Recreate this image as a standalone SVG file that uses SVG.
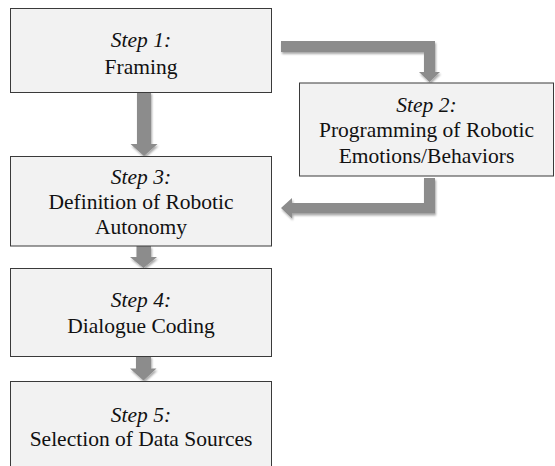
<svg xmlns="http://www.w3.org/2000/svg" width="555" height="466" viewBox="0 0 555 466">
<style>
.box{fill:#f2f2f2;stroke:#3a3a3a;stroke-width:1}
.t{font-family:"Liberation Serif","Times New Roman",serif;font-size:21.5px;fill:#111;text-anchor:middle}
.i{font-style:italic}
.arr{fill:#8c8c8c}
</style>
<defs>
<filter id="sh" x="-20%" y="-20%" width="140%" height="140%">
<feGaussianBlur in="SourceAlpha" stdDeviation="1.2"/>
<feOffset dx="1" dy="1.5" result="b"/>
<feComponentTransfer><feFuncA type="linear" slope="0.35"/></feComponentTransfer>
<feMerge><feMergeNode/><feMergeNode in="SourceGraphic"/></feMerge>
</filter>
</defs>
<rect width="555" height="466" fill="#ffffff"/>
<g id="connectors" filter="url(#sh)">
<path class="arr" d="M137 92 H151 V144 H157.5 L144 156 L130.5 144 H137 Z"/>
<path class="arr" d="M281 41 H435 V72 H440 L429.5 82 L419 72 H424 V52 H281 Z"/>
<path class="arr" d="M424 178 H435 V213.5 H292 V218.5 L281 208 L292 198 V203 H424 Z"/>
<path class="arr" d="M136.5 246 H151 V257 H157 L143.5 268 L130 257 H136.5 Z"/>
<path class="arr" d="M136 356 H151 V368.5 H156.5 L143.5 380.5 L130 368.5 H136 Z"/>
</g>
<g id="step1"><rect class="box" x="10.5" y="8.5" width="261" height="84"/>
<text class="t i" x="141" y="47">Step 1:</text><text class="t" x="141" y="74">Framing</text></g>
<g id="step2"><rect class="box" x="299.5" y="83" width="254" height="93"/>
<text class="t i" x="426.5" y="112">Step 2:</text><text class="t" x="426.5" y="137">Programming of Robotic</text><text class="t" x="426.5" y="163">Emotions/Behaviors</text></g>
<g id="step3"><rect class="box" x="10.5" y="156.5" width="261" height="89.5"/>
<text class="t i" x="141" y="184">Step 3:</text><text class="t" x="141" y="209">Definition of Robotic</text><text class="t" x="141" y="234">Autonomy</text></g>
<g id="step4"><rect class="box" x="10.5" y="268.5" width="261" height="88"/>
<text class="t i" x="141" y="307">Step 4:</text><text class="t" x="141" y="333">Dialogue Coding</text></g>
<g id="step5"><rect class="box" x="10.5" y="381.5" width="261" height="100"/>
<text class="t i" x="141" y="422">Step 5:</text><text class="t" x="141" y="446">Selection of Data Sources</text></g>
</svg>
